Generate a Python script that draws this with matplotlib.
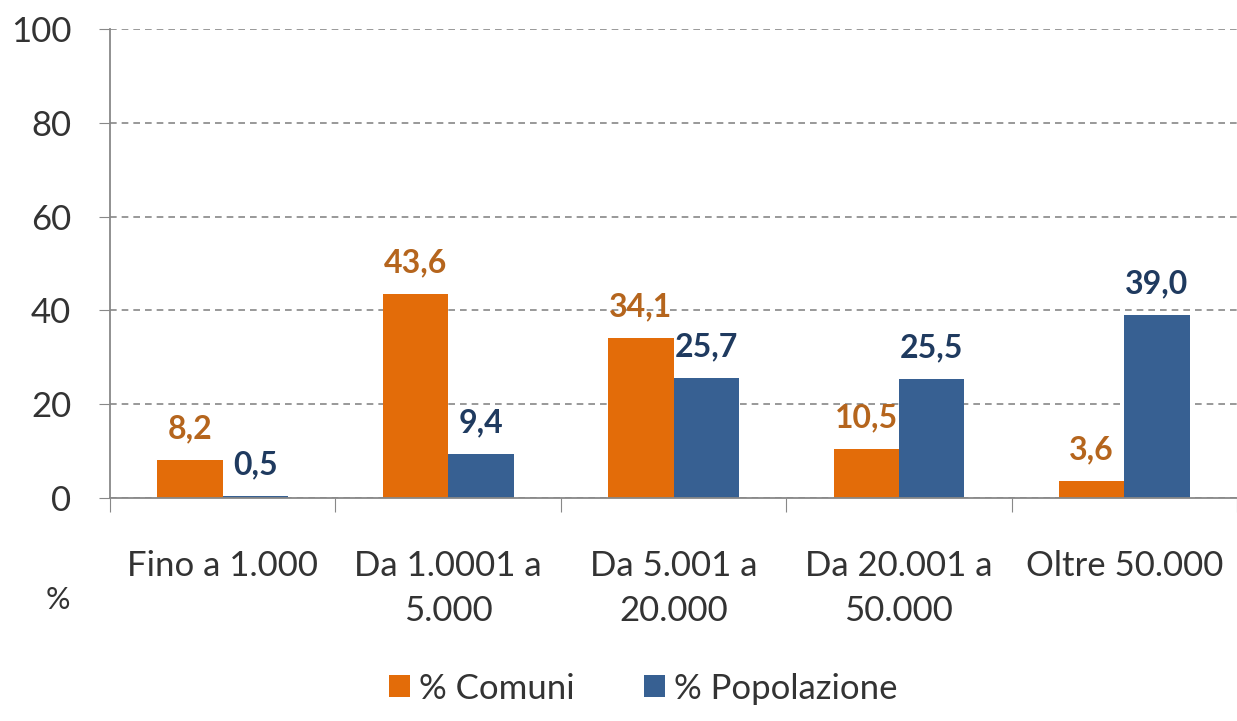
import numpy as np
import matplotlib.pyplot as plt

categorie = ["Fino a 1.000", "Da 1.0001 a\n5.000", "Da 5.001 a\n20.000", "Da 20.001 a\n50.000", "Oltre 50.000"]
comuni = [8.2, 43.6, 34.1, 10.5, 3.6]
popolazione = [0.5, 9.4, 25.7, 25.5, 39.0]

plt.rcParams['font.family'] = ['Lato', 'DejaVu Sans']

fig = plt.figure(figsize=(12.37, 7.21), dpi=100)
ax = fig.add_axes([0.089, 0.309, 0.911, 0.651])

x = np.arange(len(categorie))
w = 0.29
b1 = ax.bar(x - w/2, comuni, w, color="#E36C09", label="% Comuni")
b2 = ax.bar(x + w/2, popolazione, w, color="#376092", label="% Popolazione")

for bars, vals, col in [(b1, comuni, "#B5651D"), (b2, popolazione, "#1F3A5F")]:
    for r, v in zip(bars, vals):
        ax.annotate(f"{v:.1f}".replace(".", ","), (r.get_x() + r.get_width()/2, v),
                    xytext=(0, 12), textcoords="offset points", ha="center", va="bottom",
                    fontsize=23, fontweight="bold", color=col)

ax.set_xlim(-0.5, 4.5)
ax.set_ylim(0, 100)
ax.set_yticks(range(0, 101, 20))
ax.set_xticks(np.arange(-0.5, 4.6, 1))
ax.set_xticklabels([])
ax.set_xticks(x, minor=True)
ax.set_xticklabels(categorie, minor=True, fontsize=25, color="#333333", linespacing=1.5)
ax.tick_params(axis="x", which="minor", length=0, pad=37)
ax.tick_params(axis="x", which="major", length=10, color="#888888", direction="out")
ax.tick_params(axis="y", length=8, color="#888888", pad=20, labelsize=25, labelcolor="#333333")

ax.grid(axis="y", linestyle=(0, (4, 3)), color="#888888", linewidth=1.2)
ax.set_axisbelow(True)
for s in ["top", "right"]:
    ax.spines[s].set_visible(False)
for s in ["left", "bottom"]:
    ax.spines[s].set_color("#888888")
    ax.spines[s].set_linewidth(1.3)

fig.text(0.037, 0.155, "%", fontsize=22, color="#333333")

leg = fig.legend(handles=[b1, b2], loc="center", bbox_to_anchor=(0.52, 0.045), ncol=2, frameon=False,
                 fontsize=25, handlelength=0.6, handleheight=0.6, handletextpad=0.25, columnspacing=2.0,
                 labelcolor="#333333")

fig.savefig("out.png", dpi=100)
